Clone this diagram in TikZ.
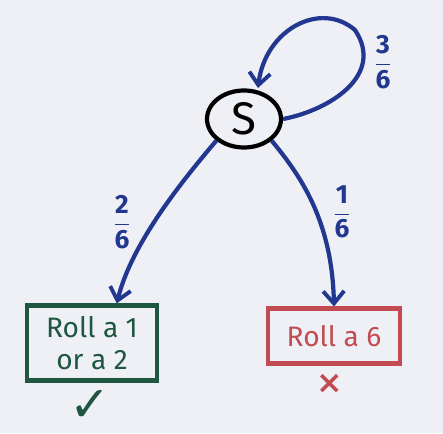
\documentclass[tikz,border=0pt]{standalone}
\usepackage{fontspec}
\setmainfont{Fira Sans}
\newfontfamily\symfont{DejaVu Sans}
\usetikzlibrary{arrows.meta,shapes.geometric}
\definecolor{bg}{HTML}{EEF0F5}
\definecolor{pen}{HTML}{22378F}
\definecolor{grn}{HTML}{1F5640}
\definecolor{rd}{HTML}{C24A52}
\newlength{\pxu}
\setlength{\pxu}{0.02cm}
\tikzset{
  conn/.style={draw=pen, line width=2.4pt, -{Straight Barb[length=7pt,width=12pt,line width=2.2pt]}},
  prob/.style={text=pen, font=\fontsize{15}{16}\selectfont\bfseries},
  state/.style={draw=black, line width=2.4pt, ellipse, minimum width=74\pxu, minimum height=57\pxu, inner sep=0pt, font=\fontsize{26}{28}\selectfont},
  outbox/.style={line width=2.4pt, rectangle, inner sep=0pt, align=center, font=\fontsize{16}{18}\selectfont},
}
\begin{document}
\begin{tikzpicture}[x=0.02cm,y=-0.02cm]
\fill[bg] (0,0) rectangle (443,433);
\useasboundingbox (0,0) rectangle (443,433);
\node[state] (S) at (244,119) {S};
\node[outbox, draw=grn, text=grn, minimum width=130\pxu, minimum height=75\pxu] (L) at (92,343) {Roll a 1\\ or a 2};
\node[outbox, draw=rd, text=rd, minimum width=132\pxu, minimum height=55\pxu] (R) at (334,336) {Roll a 6};
\node[text=grn, inner sep=0pt, font=\symfont\fontsize{28}{30}\selectfont] (ck) at (90,406) {✓};
\node[text=rd, font=\symfont\bfseries\fontsize{18}{20}\selectfont] (xx) at (330,384) {×};
\draw[conn] (S.east) .. controls (330,110) and (385,75) .. (355,30) .. controls (320,0) and (265,30) .. (258,88);
\node[prob] (p3) at (383,62) {$\displaystyle\mathbf{\frac{3}{6}}$};
\draw[conn] (S.south west) .. controls (170,195) and (130,250) .. (L.58);
\node[prob] (p2) at (122,222) {$\displaystyle\mathbf{\frac{2}{6}}$};
\draw[conn] (S.south east) .. controls (300,175) and (332,220) .. (R.north);
\node[prob] (p1) at (342,212) {$\displaystyle\mathbf{\frac{1}{6}}$};
\end{tikzpicture}
\end{document}
